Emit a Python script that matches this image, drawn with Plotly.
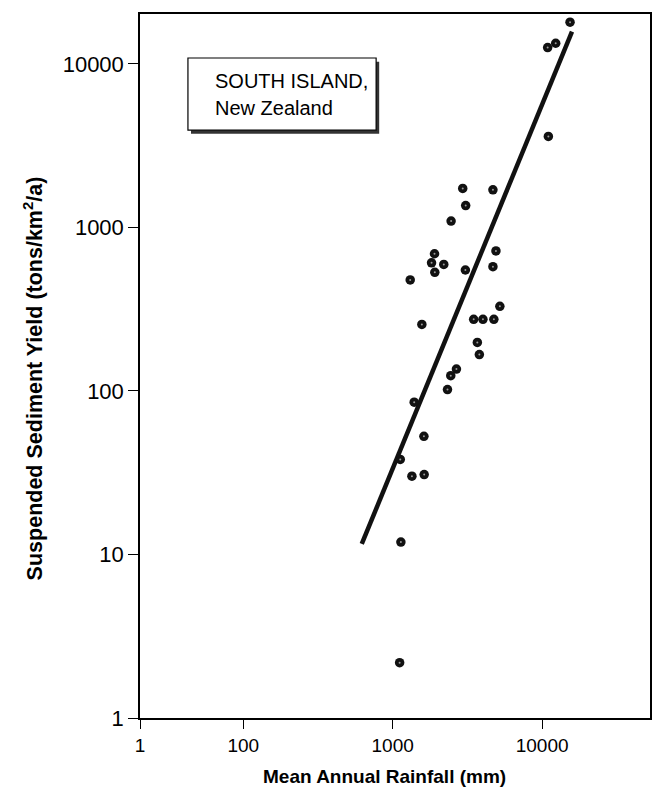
import plotly.graph_objects as go

# Mean annual rainfall (mm) and suspended sediment yield (tons/km2/a)
rainfall = [15380, 12330, 10890, 11010, 2943, 4687, 3080, 2460, 4910, 1905,
            1820, 2198, 1914, 3066, 4687, 1310, 5215, 3483, 4018, 4755,
            1568, 3686, 3802, 2671, 2448, 2327, 1393, 1618, 1124, 1345,
            1625, 1135, 1113]
sediment = [17990, 13370, 12590, 3600, 1730, 1698, 1361, 1094, 718, 690,
            607, 594, 531, 549, 575, 477, 329, 274, 274, 274,
            255, 198, 167, 136, 124, 102, 85.3, 52.8, 38.1, 30.1,
            30.8, 11.9, 2.18]

# regression line end points
fit_x = [621, 15850]
fit_y = [11.6, 15740]

x_tick_vals = [20.4, 100, 1000, 10000]
x_tick_text = ["1", "100", "1000", "10000"]
y_tick_vals = [1, 10, 100, 1000, 10000]
y_tick_text = ["1", "10", "100", "1000", "10000"]

FONT = "Liberation Sans, Arial, Helvetica, sans-serif"

fig = go.Figure()
fig.add_trace(go.Scatter(x=fit_x, y=fit_y, mode="lines",
                         line=dict(color="#111111", width=4.5),
                         hoverinfo="skip", showlegend=False))
fig.add_trace(go.Scatter(x=rainfall, y=sediment, mode="markers",
                         marker=dict(size=9.5, color="#111111", line=dict(width=0)),
                         showlegend=False))
fig.add_trace(go.Scatter(x=rainfall, y=sediment, mode="markers",
                         marker=dict(size=2, color="#999999", line=dict(width=0)),
                         hoverinfo="skip", showlegend=False))

# label box with drop shadow
fig.add_shape(type="rect", xref="paper", yref="paper",
              x0=0.100, x1=0.469, y0=0.830, y1=0.932,
              fillcolor="#333333", line=dict(width=0), layer="above")
fig.add_shape(type="rect", xref="paper", yref="paper",
              x0=0.094, x1=0.463, y0=0.835, y1=0.9375,
              fillcolor="white", line=dict(color="black", width=1.2), layer="above")
fig.add_annotation(xref="paper", yref="paper", x=0.1426, y=0.905,
                   text="SOUTH ISLAND,", showarrow=False, xanchor="left",
                   yanchor="middle", font=dict(family=FONT, size=20, color="black"))
fig.add_annotation(xref="paper", yref="paper", x=0.1426, y=0.8665,
                   text="New Zealand", showarrow=False, xanchor="left",
                   yanchor="middle", font=dict(family=FONT, size=20, color="black"))

# axis titles
fig.add_annotation(xref="paper", yref="paper", x=0.4785, y=-0.0838,
                   text="<b>Mean Annual Rainfall (mm)</b>", showarrow=False,
                   xanchor="center", yanchor="middle",
                   font=dict(family=FONT, size=19, color="black"))
fig.add_annotation(xref="paper", yref="paper", x=-0.209, y=0.483,
                   text="<b>Suspended Sediment Yield (tons/km<sup>2</sup>/a)</b>",
                   showarrow=False, textangle=-90,
                   xanchor="center", yanchor="middle",
                   font=dict(family=FONT, size=21.5, color="black"))

fig.update_layout(
    width=662, height=796,
    margin=dict(l=140, r=10, t=14, b=78),
    paper_bgcolor="white", plot_bgcolor="white",
    font=dict(family=FONT, color="black"),
    showlegend=False,
)
fig.update_xaxes(
    type="log", range=[1.309, 4.722],
    tickvals=x_tick_vals, ticktext=x_tick_text,
    ticks="outside", ticklen=9, tickwidth=1.2, tickcolor="black",
    showline=True, linecolor="black", linewidth=1.5, mirror=True,
    showgrid=False, zeroline=False,
    tickfont=dict(size=19, family=FONT),
)
fig.update_yaxes(
    type="log", range=[0, 4.305],
    tickvals=y_tick_vals, ticktext=y_tick_text,
    ticks="outside", ticklen=10, tickwidth=1.2, tickcolor="black",
    showline=True, linecolor="black", linewidth=1.5, mirror=True,
    showgrid=False, zeroline=False,
    tickfont=dict(size=22, family=FONT),
)

fig.write_html("out.html")
